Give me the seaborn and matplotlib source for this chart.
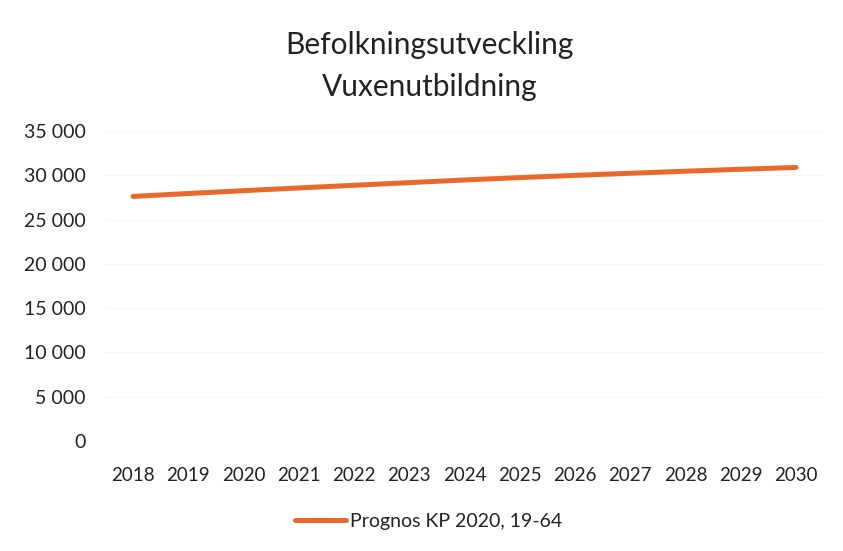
import pandas as pd
import seaborn as sns
import matplotlib.pyplot as plt
from matplotlib.ticker import FuncFormatter

years = list(range(2018, 2031))
prognos = [27620, 27950, 28270, 28580, 28880, 29180, 29480,
           29750, 30000, 30240, 30470, 30690, 30900]
series_name = "Prognos KP 2020, 19-64"
title_lines = ["Befolkningsutveckling", "Vuxenutbildning"]

df = pd.DataFrame({"År": years, "Antal": prognos, "Serie": series_name})

sns.set_style("white")
plt.rcParams["font.family"] = ["Lato", "DejaVu Sans"]
plt.rcParams["text.color"] = "#222222"

fig = plt.figure(figsize=(8.43, 5.51), dpi=100)
ax = fig.add_axes([0.125, 0.2, 0.852, 0.562])

sns.lineplot(df, x="År", y="Antal", hue="Serie", palette=["#E9692C"],
             linewidth=3.6, solid_capstyle="round", ax=ax)

ax.set_xlim(2017.5, 2030.5)
ax.set_ylim(0, 35000)
ax.set_yticks(range(0, 35001, 5000))
ax.yaxis.set_major_formatter(FuncFormatter(lambda v, p: f"{int(v):,}".replace(",", " ")))
ax.set_xticks(years)
ax.tick_params(axis="both", colors="#222222", length=0)
ax.tick_params(axis="x", labelsize=13.5, pad=19)
ax.tick_params(axis="y", labelsize=14, pad=14)
ax.grid(axis="y", color="#f6f6f6", linewidth=0.8)
for s in ax.spines.values():
    s.set_visible(False)
ax.set_xlabel("")
ax.set_ylabel("")

fig.text(0.51, 0.918, title_lines[0], ha="center", va="center", fontsize=21.5)
fig.text(0.51, 0.842, title_lines[1], ha="center", va="center", fontsize=21.5)

ax.legend(loc="center", bbox_to_anchor=(0.45, -0.261), frameon=False,
          fontsize=14, handlelength=2.6, handletextpad=0.2)

plt.savefig("out.png", dpi=100)
